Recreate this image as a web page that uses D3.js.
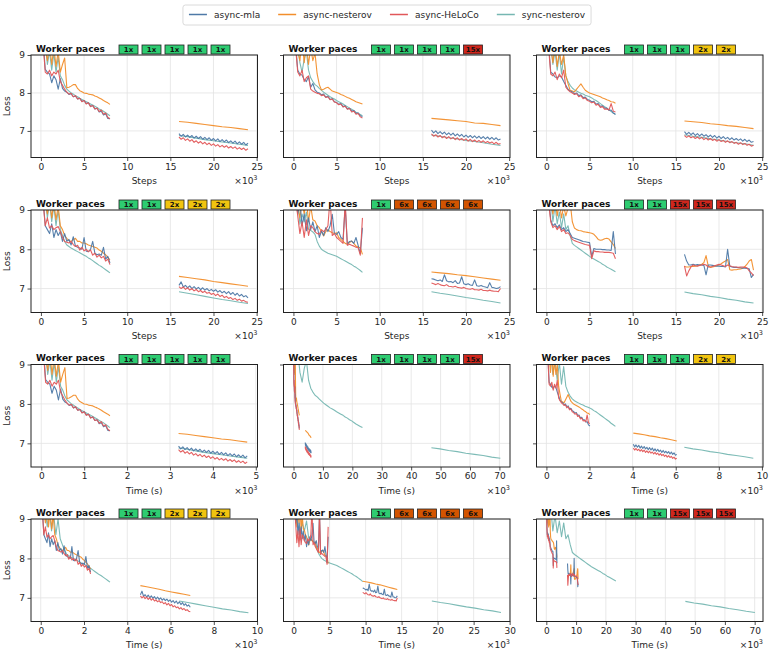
<!DOCTYPE html>
<html><head><meta charset="utf-8">
<script src="https://cdn.jsdelivr.net/npm/d3@7"></script>
<style>body{margin:0;background:#fff} svg{display:block} text{font-family:"DejaVu Sans",sans-serif}</style>
</head><body><svg id="c" width="774" height="655"></svg>
<script>
// ---------------- DATA ----------------
const methods = ["async-mla", "async-nesterov", "async-HeLoCo", "sync-nesterov"];
const methodKeys = ["mla", "nest", "helo", "sync"];
const configNames = ["A", "B", "C", "D", "E", "F"];
const paces = [
  ["1x","1x","1x","1x","1x"],
  ["1x","1x","1x","1x","15x"],
  ["1x","1x","1x","2x","2x"],
  ["1x","1x","2x","2x","2x"],
  ["1x","6x","6x","6x","6x"],
  ["1x","1x","15x","15x","15x"]
];
// logged step windows (thousands of steps)
const segStart = [0, 16];
const segLength = [8, 8];
// seconds per step (x10^3 s per 10^3 steps), async runs and sync run
const asyncSecPerStep = [0.2, 0.25, 0.252, 0.288, 0.6, 0.445];
const syncSecPerStep  = [0.2, 2.93, 0.4, 0.4, 1.2, 2.92];

// Config A: 1x 1x 1x 1x 1x
const mla_A1 = [10.5,9.4,8.62,8.55,8.5,8.27,8.45,8.35,8.1,8.38,8.12,8.05,8.02,7.96,7.98,7.9,7.92,7.84,7.86,7.78,7.8,7.72,7.74,7.65,7.67,7.58,7.6,7.5,7.52,7.42,7.45,7.33,7.32];
const mla_A2 = [6.93,6.86,6.91,6.84,6.89,6.83,6.88,6.81,6.86,6.8,6.85,6.78,6.83,6.77,6.82,6.75,6.8,6.74,6.79,6.72,6.77,6.71,6.76,6.69,6.74,6.68,6.73,6.66,6.71,6.65,6.7,6.63,6.68];
const nest_A1 = [10.6,9.9,9.2,8.85,9.3,8.75,9.2,8.7,9.1,8.55,8.75,8.92,8.14,8.15,8.18,8.22,8.22,8.12,8.06,8.03,8.0,7.99,7.97,7.96,7.95,7.92,7.9,7.87,7.84,7.8,7.77,7.74,7.7];
const nest_A2 = [7.25,7.23,7.2,7.17,7.14,7.11,7.09,7.06,7.03];
const helo_A1 = [10.4,9.3,8.55,8.5,8.6,8.45,8.55,8.5,8.6,8.3,8.2,8.1,8.02,7.97,7.99,7.9,7.93,7.84,7.86,7.77,7.8,7.71,7.74,7.64,7.67,7.58,7.6,7.51,7.55,7.44,7.47,7.36,7.32];
const helo_A2 = [6.84,6.78,6.82,6.75,6.79,6.73,6.77,6.7,6.74,6.68,6.72,6.66,6.7,6.64,6.68,6.62,6.66,6.6,6.64,6.58,6.62,6.57,6.61,6.55,6.59,6.54,6.58,6.52,6.56,6.51,6.55,6.49,6.53];
const sync_A1 = [10.8,10.0,9.3,8.75,9.1,8.6,9.05,8.55,8.95,8.45,8.35,8.2,8.1,8.05,8.0,7.97,7.93,7.9,7.86,7.83,7.8,7.77,7.74,7.71,7.68,7.65,7.62,7.58,7.55,7.52,7.48,7.44,7.4];
const sync_A2 = [6.88,6.85,6.81,6.77,6.74,6.71,6.68,6.65,6.62];

// Config B: 1x 1x 1x 1x 15x
const mla_B1 = [10.4,9.3,8.6,8.5,8.47,8.35,8.3,8.43,8.15,8.25,8.08,8.02,8.0,7.95,7.97,7.89,7.91,7.83,7.85,7.77,7.75,7.7,7.72,7.64,7.66,7.58,7.6,7.52,7.54,7.46,7.48,7.4,7.38];
const mla_B2 = [7.02,6.95,7.0,6.93,6.98,6.92,6.97,6.9,6.95,6.89,6.94,6.87,6.92,6.86,6.91,6.84,6.89,6.83,6.88,6.82,6.87,6.81,6.86,6.8,6.85,6.79,6.84,6.78,6.83,6.77,6.82,6.76,6.79];
const nest_B1 = [10.6,9.9,9.1,8.85,9.4,8.8,9.3,8.75,9.2,8.85,9.05,8.5,8.22,8.08,8.1,8.13,8.15,8.1,8.05,8.03,8.01,7.99,7.96,7.94,7.91,7.88,7.86,7.83,7.8,7.77,7.75,7.73,7.71];
const nest_B2 = [7.33,7.31,7.29,7.27,7.25,7.21,7.2,7.17,7.14];
const helo_B1 = [10.3,9.2,8.55,8.45,8.6,8.3,8.4,8.45,8.1,8.05,8.02,7.99,7.98,7.93,7.95,7.88,7.9,7.82,7.84,7.76,7.74,7.69,7.71,7.63,7.65,7.57,7.59,7.5,7.52,7.44,7.46,7.37,7.34];
const helo_B2 = [6.92,6.86,6.9,6.84,6.88,6.82,6.86,6.8,6.85,6.79,6.83,6.77,6.82,6.76,6.8,6.75,6.79,6.73,6.78,6.72,6.76,6.71,6.75,6.7,6.74,6.69,6.72,6.68,6.71,6.66,6.7,6.65,6.67];
const sync_B1 = [10.8,10.0,9.3,8.8,8.55,8.9,9.1,8.6,8.4,8.3,8.22,8.18,8.12,8.07,8.02,7.98,7.94,7.9,7.87,7.84,7.8,7.77,7.74,7.71,7.67,7.64,7.6,7.57,7.53,7.49,7.46,7.43,7.4];
const sync_B2 = [6.89,6.86,6.82,6.79,6.75,6.72,6.69,6.65,6.62];

// Config C: 1x 1x 1x 2x 2x
const mla_C1 = [10.4,9.3,8.55,8.5,8.42,8.4,8.45,8.42,8.3,8.2,8.1,8.05,8.03,7.98,8.0,7.93,7.95,7.88,7.89,7.83,7.81,7.77,7.78,7.71,7.72,7.65,7.66,7.6,7.6,7.54,7.55,7.47,7.44];
const mla_C2 = [6.98,6.91,6.96,6.9,6.95,6.88,6.93,6.87,6.92,6.86,6.9,6.84,6.89,6.83,6.88,6.81,6.86,6.8,6.85,6.79,6.83,6.77,6.82,6.76,6.8,6.75,6.79,6.73,6.78,6.72,6.76,6.7,6.72];
const nest_C1 = [10.6,9.8,9.2,8.8,9.3,8.7,9.1,8.75,9.0,8.45,8.25,8.07,8.05,8.03,8.1,8.17,8.24,8.15,8.07,8.03,8.0,7.98,7.96,7.94,7.92,7.9,7.87,7.85,7.82,7.8,7.77,7.76,7.73];
const nest_C2 = [7.26,7.24,7.22,7.19,7.17,7.14,7.12,7.09,7.06];
const helo_C1 = [10.3,9.2,8.5,8.45,8.55,8.35,8.5,8.4,8.6,8.15,8.08,8.03,8.0,7.96,7.98,7.9,7.93,7.85,7.87,7.8,7.78,7.74,7.76,7.68,7.7,7.62,7.64,7.57,7.58,7.55,7.72,7.52,7.5];
const helo_C2 = [6.88,6.83,6.87,6.82,6.85,6.8,6.84,6.79,6.83,6.77,6.81,6.76,6.8,6.75,6.78,6.73,6.77,6.72,6.75,6.7,6.74,6.69,6.72,6.67,6.7,6.65,6.69,6.64,6.67,6.62,6.65,6.6,6.62];
const sync_C1 = [10.8,10.0,9.3,8.75,9.1,8.6,9.05,8.5,8.95,8.45,8.3,8.2,8.13,8.08,8.05,8.02,7.99,7.97,7.94,7.92,7.9,7.87,7.83,7.8,7.76,7.72,7.68,7.64,7.6,7.56,7.51,7.47,7.43];
const sync_C2 = [6.9,6.86,6.83,6.79,6.76,6.72,6.69,6.66,6.62];

// Config D: 1x 1x 2x 2x 2x
const mla_D1 = [10.4,9.3,8.6,8.5,8.4,8.65,8.3,8.5,8.35,8.45,8.2,8.4,8.2,8.25,8.11,8.32,8.08,8.05,8.03,8.0,8.3,7.95,7.94,8.0,8.2,7.9,7.86,7.88,7.85,8.05,7.75,7.82,7.65];
const mla_D2 = [7.08,7.17,7.04,7.08,7.02,7.07,7.0,7.05,6.99,7.03,6.97,7.02,6.96,7.0,6.94,6.98,6.93,6.97,6.91,6.95,6.89,6.93,6.87,6.92,6.85,6.9,6.83,6.88,6.81,6.85,6.79,6.82,6.76];
const nest_D1 = [10.6,9.9,9.2,8.9,9.3,8.8,9.2,8.75,9.1,8.6,8.5,8.35,8.28,8.22,8.2,8.24,8.28,8.2,8.2,8.16,8.16,8.14,8.11,8.09,8.07,8.05,8.03,7.98,7.95,7.9,7.86,7.8,7.73];
const nest_D2 = [7.31,7.28,7.25,7.22,7.18,7.15,7.12,7.09,7.06];
const helo_D1 = [10.3,9.2,8.6,8.8,8.54,8.6,8.5,8.55,8.58,8.45,8.3,8.2,8.18,8.16,8.2,8.12,8.07,8.1,7.98,8.05,7.96,8.0,7.94,7.98,7.85,7.9,7.8,7.85,7.78,7.82,7.7,7.75,7.61];
const helo_D2 = [7.05,7.0,7.04,6.98,7.02,6.96,7.0,6.94,6.98,6.92,6.95,6.9,6.93,6.88,6.9,6.85,6.88,6.82,6.86,6.8,6.83,6.77,6.8,6.75,6.77,6.72,6.75,6.7,6.73,6.68,6.7,6.66,6.65];
const sync_D1 = [10.8,10.0,9.3,8.8,9.2,8.7,9.1,8.6,9.0,8.5,8.35,8.2,8.11,8.07,8.03,8.0,7.97,7.94,7.91,7.88,7.85,7.82,7.78,7.75,7.71,7.67,7.63,7.59,7.56,7.52,7.48,7.44,7.4];
const sync_D2 = [6.92,6.88,6.84,6.8,6.76,6.72,6.69,6.65,6.62];

// Config E: 1x 6x 6x 6x 6x
const mla_E1 = [10.4,9.4,8.9,9.2,8.6,8.9,8.47,8.8,8.5,8.7,8.45,8.6,8.3,8.47,8.35,8.55,8.45,8.6,8.89,8.4,8.38,8.45,8.3,8.25,9.1,8.13,8.2,8.21,8.15,8.3,8.1,7.89,8.55];
const mla_E2 = [7.25,7.24,7.22,7.2,7.22,7.18,7.35,7.2,7.17,7.18,7.15,7.2,7.13,7.14,7.3,7.12,7.1,7.12,7.09,7.08,7.22,7.07,7.06,7.08,7.05,7.04,7.02,7.15,7.03,7.02,7.0,7.01,7.05];
const nest_E1 = [10.6,9.9,9.1,8.8,9.2,8.9,9.3,8.7,9.1,8.75,8.72,8.6,8.55,8.45,8.34,8.45,8.5,8.45,8.42,8.4,8.42,8.3,8.25,8.2,8.15,8.13,8.17,8.21,8.15,8.08,8.06,8.04,7.87];
const nest_E2 = [7.42,7.4,7.38,7.35,7.33,7.3,7.27,7.24,7.21];
const helo_E1 = [10.3,9.3,8.85,8.4,8.7,8.3,8.75,8.35,8.6,8.55,8.45,8.4,8.38,8.5,8.45,8.5,8.6,9.3,8.35,8.4,8.3,8.25,8.2,8.15,9.2,8.1,8.13,8.1,8.08,8.05,8.04,7.85,8.8];
const helo_E2 = [7.14,7.12,7.1,7.13,7.1,7.08,7.07,7.1,7.06,7.05,7.04,7.06,7.03,7.02,7.01,7.03,7.0,6.99,6.98,7.0,6.97,6.97,6.96,6.98,6.95,6.95,6.94,6.96,6.94,6.93,6.93,6.92,7.0];
const sync_E1 = [10.8,10.0,9.3,8.64,8.9,8.7,8.95,8.51,8.48,8.44,8.38,8.2,8.08,8.0,7.96,7.93,7.9,7.88,7.86,7.84,7.82,7.79,7.76,7.73,7.7,7.67,7.64,7.61,7.57,7.54,7.5,7.46,7.41];
const sync_E2 = [6.92,6.88,6.85,6.81,6.77,6.74,6.7,6.67,6.63];

// Config F: 1x 1x 15x 15x 15x
const mla_F1 = [10.4,9.3,8.75,8.6,8.65,8.55,8.62,8.5,8.55,8.45,8.5,8.4,8.3,8.28,8.26,8.24,8.22,8.2,8.19,8.18,8.17,7.82,8.02,8.0,8.0,8.0,7.99,7.99,7.98,7.98,7.97,8.45,7.88];
const mla_F2 = [7.87,7.7,7.6,7.6,7.62,7.6,7.61,7.6,7.6,7.59,7.35,7.6,7.6,7.59,7.58,7.57,7.57,7.56,7.56,7.55,8.0,7.57,7.55,7.54,7.54,7.53,7.53,7.52,7.52,7.51,7.5,7.28,7.36];
const nest_F1 = [10.6,9.9,9.2,8.9,9.3,8.85,9.2,8.8,9.1,8.85,9.05,9.2,8.7,8.54,8.5,8.48,8.47,8.45,8.44,8.43,8.42,8.41,8.38,8.32,8.25,8.23,8.24,8.27,8.28,8.26,8.19,8.12,8.02];
const nest_F2 = [7.56,7.55,7.55,7.56,7.56,7.57,7.58,7.6,7.62,7.66,7.84,7.58,7.54,7.55,7.56,7.58,7.6,7.63,7.67,7.7,7.74,7.48,7.47,7.48,7.48,7.49,7.5,7.52,7.56,7.62,7.7,7.74,7.47];
const helo_F1 = [10.3,9.2,8.7,8.55,8.6,8.5,8.58,8.45,8.5,8.4,8.42,8.35,8.25,8.22,8.2,8.18,8.16,8.14,8.12,8.11,8.1,7.76,7.96,7.94,7.94,7.93,7.93,7.92,7.92,7.92,7.91,7.9,7.76];
const helo_F2 = [7.58,7.32,7.45,7.55,7.6,7.58,7.57,7.59,7.6,7.62,7.6,7.55,7.55,7.56,7.58,7.6,7.62,7.6,7.58,7.56,7.6,7.58,7.56,7.55,7.55,7.54,7.55,7.55,7.54,7.53,7.45,7.4,7.33];
const sync_F1 = [10.8,10.0,9.3,8.7,9.1,8.65,8.95,8.55,8.9,8.5,8.6,8.35,8.15,8.1,8.06,8.02,7.98,7.94,7.9,7.86,7.82,7.78,7.75,7.72,7.69,7.66,7.62,7.59,7.55,7.52,7.49,7.46,7.43];
const sync_F2 = [6.91,6.87,6.84,6.8,6.77,6.73,6.7,6.66,6.63];

const stepTicks = [0, 5, 10, 15, 20, 25];
const timeTicks = [
  [0, 1, 2, 3, 4, 5],
  [0, 10, 20, 30, 40, 50, 60, 70],
  [0, 2, 4, 6, 8, 10],
  [0, 2, 4, 6, 8, 10],
  [0, 5, 10, 15, 20, 25, 30],
  [0, 10, 20, 30, 40, 50, 60, 70]
];
const yTicks = [7, 8, 9];

// ---------------- LAYOUT / STYLE ----------------
const colors = ["#4e79a7", "#f28e2b", "#e15759", "#76b7b2"];
const paceColors = {"1x": "#2ecc71", "2x": "#f1c40f", "6x": "#d35400", "15x": "#d0261c"};
const colX = [31, 283.5, 536.5], plotW = 226.5;
const rowY = [55, 210, 364.5, 519], plotH = 102.5;
const stepDomain = [-1.15, 25.1];
const timeDomains = [[-0.24, 5.04], [-3.4, 73.6], [-0.46, 10.05], [-0.45, 10.02], [-1.4, 30.05], [-3.3, 72.8]];
const yDomainsByRow = [[6.3, 9], [6.39, 9], [6.4, 9], [6.4, 9]];
const drawOrder = [3, 1, 0, 2];

const runs = {
  A: {mla: [mla_A1, mla_A2], nest: [nest_A1, nest_A2], helo: [helo_A1, helo_A2], sync: [sync_A1, sync_A2]},
  B: {mla: [mla_B1, mla_B2], nest: [nest_B1, nest_B2], helo: [helo_B1, helo_B2], sync: [sync_B1, sync_B2]},
  C: {mla: [mla_C1, mla_C2], nest: [nest_C1, nest_C2], helo: [helo_C1, helo_C2], sync: [sync_C1, sync_C2]},
  D: {mla: [mla_D1, mla_D2], nest: [nest_D1, nest_D2], helo: [helo_D1, helo_D2], sync: [sync_D1, sync_D2]},
  E: {mla: [mla_E1, mla_E2], nest: [nest_E1, nest_E2], helo: [helo_E1, helo_E2], sync: [sync_E1, sync_E2]},
  F: {mla: [mla_F1, mla_F2], nest: [nest_F1, nest_F2], helo: [helo_F1, helo_F2], sync: [sync_F1, sync_F2]}
};

const svg = d3.select("#c");
svg.append("rect").attr("width", 774).attr("height", 655).attr("fill", "#fff");

function segPoints(vals, s) {
  const n = vals.length;
  return vals.map((v, i) => [segStart[s] + i * segLength[s] / (n - 1), v]);
}

for (let r = 0; r < 4; r++) {
  for (let c = 0; c < 3; c++) {
    const ci = (r % 2) * 3 + c;
    const isTime = r >= 2;
    const x0 = colX[c], y0 = rowY[r];
    const g = svg.append("g").attr("transform", `translate(${x0},${y0})`);
    const x = d3.scaleLinear().domain(isTime ? timeDomains[ci] : stepDomain).range([0, plotW]);
    const y = d3.scaleLinear().domain(yDomainsByRow[r]).range([plotH, 0]);
    const xt = isTime ? timeTicks[ci] : stepTicks;

    // grid
    g.append("g").selectAll("line").data(xt).join("line")
      .attr("x1", d => x(d)).attr("x2", d => x(d)).attr("y1", 0).attr("y2", plotH)
      .attr("stroke", "#e3e3e3").attr("stroke-width", 0.8);
    g.append("g").selectAll("line").data(yTicks).join("line")
      .attr("y1", d => y(d)).attr("y2", d => y(d)).attr("x1", 0).attr("x2", plotW)
      .attr("stroke", "#e3e3e3").attr("stroke-width", 0.8);

    const clipId = `clip${r}${c}`;
    g.append("clipPath").attr("id", clipId).append("rect").attr("width", plotW).attr("height", plotH);
    const lg = g.append("g").attr("clip-path", `url(#${clipId})`);
    const line = d3.line().x(d => x(d[0])).y(d => y(d[1]));
    const run = runs[configNames[ci]];
    drawOrder.forEach(mi => {
      const key = methodKeys[mi];
      const factor = isTime ? (key === "sync" ? syncSecPerStep[ci] : asyncSecPerStep[ci]) : 1;
      run[key].forEach((vals, s) => {
        const pts = segPoints(vals, s).map(p => [p[0] * factor, p[1]]);
        lg.append("path").attr("d", line(pts)).attr("fill", "none")
          .attr("stroke", colors[mi]).attr("stroke-width", 1.1).attr("stroke-opacity", 0.95)
          .attr("stroke-linejoin", "round");
      });
    });

    // axes
    const xa = g.append("g").attr("transform", `translate(0,${plotH})`)
      .call(d3.axisBottom(x).tickValues(xt).tickFormat(d3.format("d")).tickSize(3.5).tickPadding(2.5));
    const ya = g.append("g")
      .call(d3.axisLeft(y).tickValues(yTicks).tickFormat(c === 0 ? d3.format("d") : () => "").tickSize(3.5).tickPadding(2.5));
    [xa, ya].forEach(a => {
      a.select(".domain").remove();
      a.selectAll("line").attr("stroke", "#222").attr("stroke-width", 0.8);
      a.selectAll("text").attr("fill", "#262626").attr("font-size", 9).attr("font-family", "DejaVu Sans");
    });
    g.append("rect").attr("width", plotW).attr("height", plotH).attr("fill", "none")
      .attr("stroke", "#222").attr("stroke-width", 1);

    // x label
    g.append("text").attr("x", plotW / 2).attr("y", plotH + 26.5).attr("text-anchor", "middle")
      .attr("font-size", 9).attr("fill", "#262626").text(isTime ? "Time (s)" : "Steps");
    const ot = g.append("text").attr("x", plotW).attr("y", plotH + 26.5).attr("text-anchor", "end")
      .attr("font-size", 9).attr("fill", "#262626");
    ot.append("tspan").text("×10");
    ot.append("tspan").attr("dy", -4).attr("font-size", 6.5).text("3");
    if (c === 0) {
      g.append("text").attr("transform", `translate(-21,${plotH / 2}) rotate(-90)`)
        .attr("text-anchor", "middle").attr("font-size", 9).attr("fill", "#262626").text("Loss");
    }

    // worker paces header
    g.append("text").attr("x", 5).attr("y", -3.5).attr("font-size", 9).attr("font-weight", "bold")
      .attr("fill", "#111").text("Worker paces");
    paces[ci].forEach((p, k) => {
      const bx = 88 + k * 23;
      g.append("rect").attr("x", bx).attr("y", -10).attr("width", 19).attr("height", 9)
        .attr("fill", paceColors[p]).attr("stroke", "#222").attr("stroke-width", 0.8);
      g.append("text").attr("x", bx + 9.5).attr("y", -3).attr("text-anchor", "middle")
        .attr("font-size", 7).attr("font-weight", "bold").attr("font-family", "DejaVu Sans Mono")
        .attr("fill", "#111").text(p);
    });
  }
}

// legend
const leg = svg.append("g");
const legBox = leg.append("rect").attr("y", 5).attr("height", 20).attr("rx", 2.5)
  .attr("fill", "#fff").attr("stroke", "#d0d0d0").attr("stroke-width", 0.8);
let lx = 0;
const items = [];
methods.forEach((m, i) => {
  const it = leg.append("g");
  it.append("line").attr("x1", lx).attr("x2", lx + 18).attr("y1", 14.5).attr("y2", 14.5)
    .attr("stroke", colors[i]).attr("stroke-width", 1.5);
  const t = it.append("text").attr("x", lx + 25).attr("y", 17.8).attr("font-size", 9)
    .attr("fill", "#262626").text(m);
  lx += 25 + t.node().getComputedTextLength() + 18;
});
const totalW = lx - 18;
const startX = 387 - totalW / 2;
leg.selectAll("g").attr("transform", `translate(${startX},0)`);
legBox.attr("x", startX - 6).attr("width", totalW + 12);
</script></body></html>
